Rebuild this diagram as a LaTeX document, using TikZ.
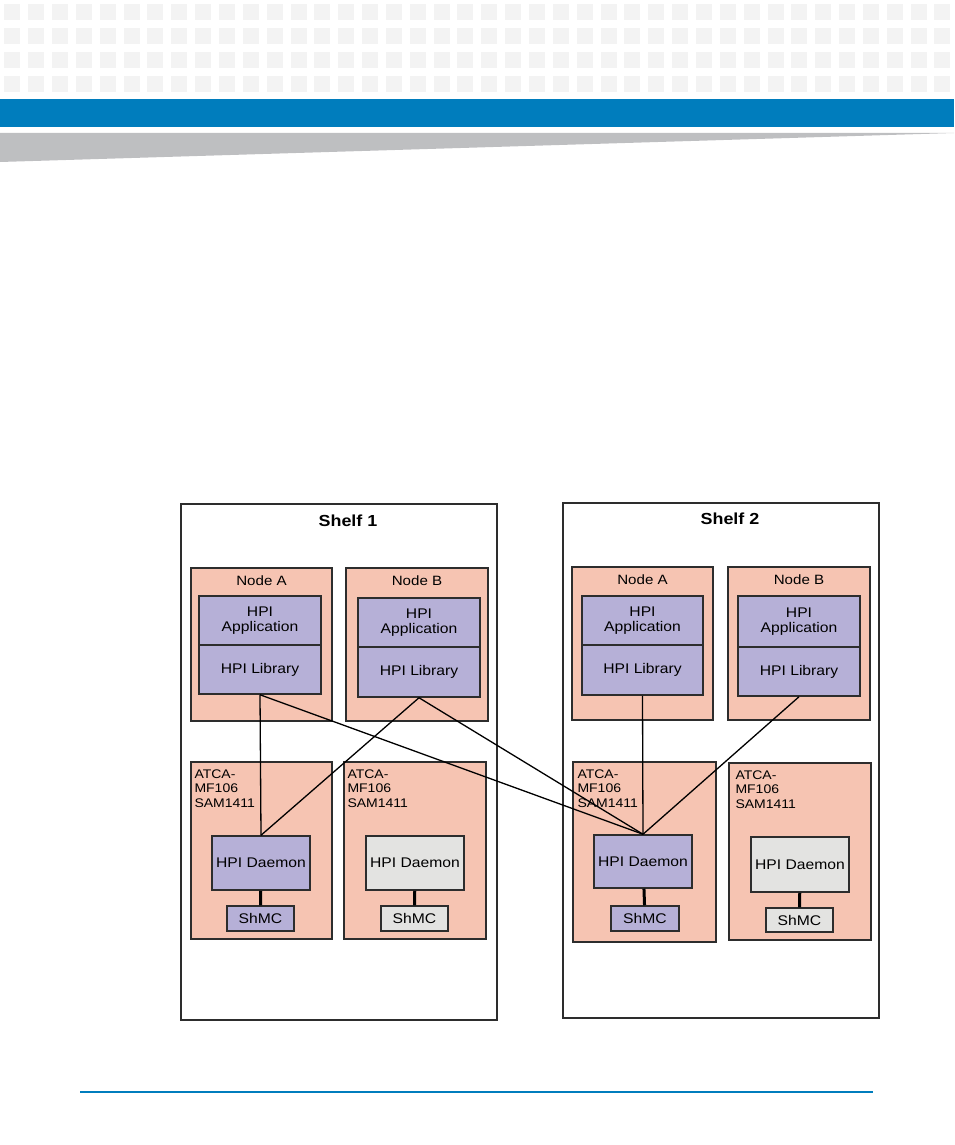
\documentclass[tikz,border=0pt]{standalone}
\usepackage{fontspec}
\setmainfont{Liberation Sans}[FakeStretch=1.12]
\usepackage{tikz}
\usetikzlibrary{positioning}
\definecolor{hdrblue}{RGB}{0,125,189}
\definecolor{wedgegrey}{RGB}{190,191,193}
\definecolor{tilegrey}{RGB}{243,243,243}
\definecolor{salmon}{RGB}{246,196,178}
\definecolor{lavender}{RGB}{182,176,215}
\definecolor{idlegrey}{RGB}{227,227,225}
\definecolor{edgegrey}{RGB}{45,45,45}
\newcommand\fbody{\fontsize{14}{15}\selectfont}
\newcommand\fsmall{\fontsize{13.5}{14.5}\selectfont}
\newcommand\fatca{\fontsize{12.5}{14.6}\selectfont}
\tikzset{
  shelfbox/.style={draw=edgegrey,line width=1.2pt,minimum width=316pt,minimum height=516pt,inner sep=0pt},
  blade/.style={draw=edgegrey,line width=1.4pt,fill=salmon,inner sep=0pt,minimum width=141pt},
  hpi/.style={draw=edgegrey,line width=1.5pt,fill=lavender,align=center,inner sep=0pt,
              font=\fbody,minimum width=122pt,minimum height=49pt},
  daemon/.style={hpi,minimum width=98pt,minimum height=54pt},
  shmc/.style={hpi,minimum width=67pt,minimum height=25pt},
  idle/.style={fill=idlegrey},
  lbl/.style={inner sep=0pt,font=\fsmall},
  atca/.style={inner sep=0pt,font=\fatca,align=left},
  wire/.style={black,line width=1.3pt},
  bus/.style={black,line width=3pt}
}

\begin{document}
\begin{tikzpicture}[x=1pt,y=-1pt]
  \useasboundingbox (0,0) rectangle (954,1145);
  % page header and footer
  \foreach \i in {0,...,39}{\foreach \j in {0,...,3}{
    \fill[tilegrey] ({4.3+23.85*\i},{4+24*\j}) rectangle ++(16,16);}}
  \fill[hdrblue] (0,99) rectangle (954,127);
  \fill[wedgegrey] (0,133) -- (954,133) -- (0,162) -- cycle;
  \draw[hdrblue,line width=2pt] (80,1091.7) -- (873,1091.7);

  % shelves
  \node[shelfbox] (sh1) at (339,762) {};
  \node[shelfbox,minimum height=515pt] (sh2) at (721,760.5) {};
  \node[lbl,font=\fontsize{16}{18}\bfseries] (sh1t) at (348,521) {Shelf 1};
  \node[lbl,font=\fontsize{16}{18}\bfseries] (sh2t) at (730,519) {Shelf 2};

  % shelf 1
  \node[blade,minimum height=153pt] (s1a) at (261.5,644.5) {};
  \node[lbl,below=8pt of s1a.north] {Node A};
  \node[hpi] (s1aa) at (260,620.5) {HPI\\Application};
  \node[hpi] (s1al) at (260,669.5) {HPI Library};
  \node[blade,minimum width=142pt,minimum height=153pt] (s1b) at (417,644.5) {};
  \node[lbl,below=8pt of s1b.north] {Node B};
  \node[hpi] (s1ba) at (419,622.5) {HPI\\Application};
  \node[hpi,minimum height=50pt] (s1bl) at (419,672) {HPI Library};

  \node[blade,minimum height=177pt] (s1c) at (261.5,850.5) {};
  \node[atca,below right=8pt and 4pt of s1c.north west] {ATCA-\\MF106\\SAM1411};
  \node[daemon] (s1cd) at (261,863) {HPI Daemon};
  \node[shmc] (s1cs) at (260.5,918.5) {ShMC};
  \node[blade,minimum width=142pt,minimum height=177pt] (s1d) at (415,850.5) {};
  \node[atca,below right=8pt and 4pt of s1d.north west] {ATCA-\\MF106\\SAM1411};
  \node[daemon,idle] (s1dd) at (415,863) {HPI Daemon};
  \node[shmc,idle] (s1ds) at (414.5,918.5) {ShMC};

  % shelf 2
  \node[blade,minimum height=153pt] (s2a) at (642.5,643.5) {};
  \node[lbl,below=8pt of s2a.north] {Node A};
  \node[hpi,minimum width=121pt] (s2aa) at (642.5,620.5) {HPI\\Application};
  \node[hpi,minimum width=121pt,minimum height=50pt] (s2al) at (642.5,670) {HPI Library};
  \node[blade,minimum width=142pt,minimum height=153pt] (s2b) at (799,643.5) {};
  \node[lbl,below=8pt of s2b.north] {Node B};
  \node[hpi,minimum height=51pt] (s2ba) at (799,621.5) {HPI\\Application};
  \node[hpi] (s2bl) at (799,671.5) {HPI Library};

  \node[blade,minimum width=143pt,minimum height=180pt] (s2c) at (644.5,852) {};
  \node[atca,below right=8pt and 5pt of s2c.north west] {ATCA-\\MF106\\SAM1411};
  \node[daemon,minimum height=53pt] (s2cd) at (643,861.5) {HPI Daemon};
  \node[shmc,minimum width=68pt] (s2cs) at (645,918.5) {ShMC};
  \node[blade,minimum width=142pt,minimum height=177pt] (s2d) at (800,851.5) {};
  \node[atca,below right=8pt and 7pt of s2d.north west] {ATCA-\\MF106\\SAM1411};
  \node[daemon,idle,minimum height=55pt] (s2dd) at (800,864.5) {HPI Daemon};
  \node[shmc,idle,minimum height=24pt] (s2ds) at (799.5,920) {ShMC};

  % links
  \draw[wire] (s1al.south) -- (s1cd.north); \draw[wire] (s1al.south) -- (s2cd.north);
  \draw[wire] (s1bl.south) -- (s1cd.north); \draw[wire] (s1bl.south) -- (s2cd.north);
  \draw[wire] (s2al.south) -- (s2cd.north); \draw[wire] (s2bl.south) -- (s2cd.north);
  \draw[bus] (s1cd) -- (s1cs); \draw[bus] (s1dd) -- (s1ds);
  \draw[bus] (s2cd) -- (s2cs); \draw[bus] (s2dd) -- (s2ds);
\end{tikzpicture}
\end{document}
